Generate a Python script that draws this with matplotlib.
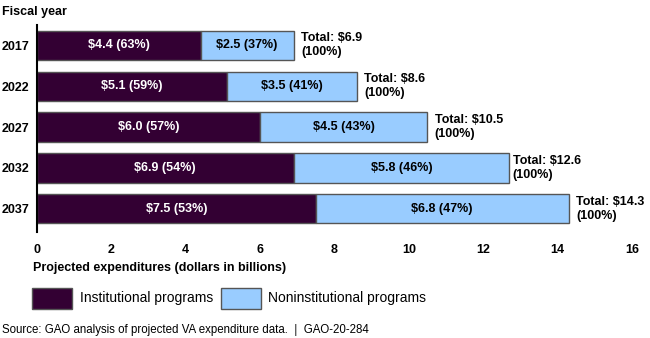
import matplotlib.pyplot as plt
from matplotlib.patches import Rectangle

plt.rcParams['font.family'] = ['Liberation Sans', 'DejaVu Sans']

years = ['2017', '2022', '2027', '2032', '2037']
institutional = [4.4, 5.1, 6.0, 6.9, 7.5]
noninstitutional = [2.5, 3.5, 4.5, 5.8, 6.8]
inst_pct = [63, 59, 57, 54, 53]
noninst_pct = [37, 41, 43, 46, 47]
totals = [6.9, 8.6, 10.5, 12.6, 14.3]

dark = '#330033'
light = '#99ccff'
edge = '#555555'

fig = plt.figure(figsize=(6.5, 3.38), dpi=100)
ax = fig.add_axes([0.057, 0.314, 0.915, 0.612])

pos = range(len(years))
ax.barh(pos, institutional, height=0.71, color=dark, edgecolor=edge, linewidth=1)
ax.barh(pos, noninstitutional, left=institutional, height=0.71, color=light,
        edgecolor=edge, linewidth=1)

for i in pos:
    ax.text(institutional[i] / 2, i, '${:.1f} ({}%)'.format(institutional[i], inst_pct[i]),
            color='white', fontsize=9, fontweight='bold', ha='center', va='center')
    ax.text(institutional[i] + noninstitutional[i] / 2, i,
            '${:.1f} ({}%)'.format(noninstitutional[i], noninst_pct[i]),
            color='black', fontsize=9, fontweight='bold', ha='center', va='center')
    ax.text(totals[i] + 0.2, i, 'Total: ${:.1f}\n(100%)'.format(totals[i]),
            color='black', fontsize=9, fontweight='bold', ha='left', va='center',
            linespacing=1.15)

ax.set_xlim(0, 16)
ax.set_ylim(4.56, -0.49)
ax.set_xticks(range(0, 17, 2))
ax.set_yticks(list(pos))
ax.set_yticklabels(years)
ax.tick_params(axis='x', length=0, labelsize=9, pad=9)
ax.tick_params(axis='y', length=0, labelsize=9, pad=5.5)
for lab in ax.get_xticklabels() + ax.get_yticklabels():
    lab.set_fontweight('bold')
for s in ['top', 'right', 'bottom']:
    ax.spines[s].set_visible(False)
ax.spines['left'].set_linewidth(1.5)

fig.text(2 / 650, 1 - 12 / 338, 'Fiscal year', fontsize=9, fontweight='bold', va='center')
fig.text(33 / 650, 1 - 268 / 338, 'Projected expenditures (dollars in billions)',
         fontsize=9, fontweight='bold', va='center')

# legend
for x0, col, label, tx in [(32, dark, 'Institutional programs', 80),
                           (221, light, 'Noninstitutional programs', 268)]:
    fig.patches.append(Rectangle((x0 / 650, 1 - 309 / 338), 40 / 650, 21 / 338,
                                 transform=fig.transFigure, facecolor=col,
                                 edgecolor=edge, linewidth=1))
    fig.text(tx / 650, 1 - 298 / 338, label, fontsize=10, va='center')

fig.text(2 / 650, 1 - 330 / 338,
         'Source: GAO analysis of projected VA expenditure data.  |  GAO-20-284',
         fontsize=8.3, va='center')

fig.savefig('out.png', dpi=100)
